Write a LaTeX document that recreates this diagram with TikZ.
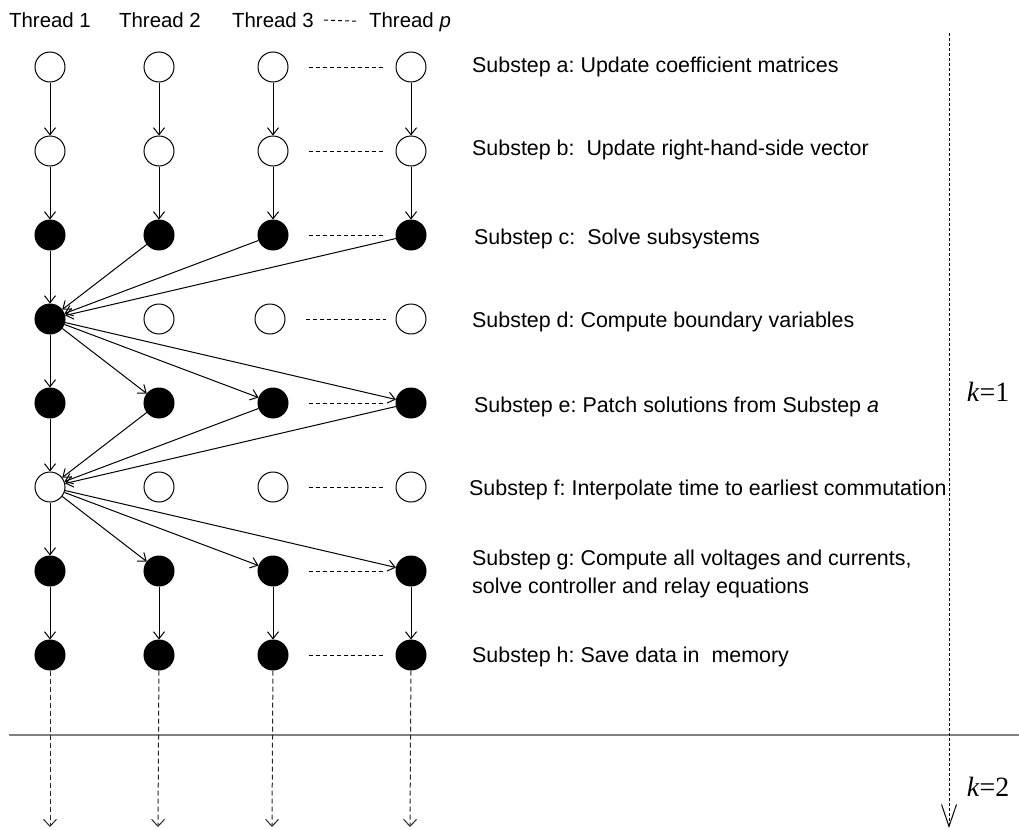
\documentclass[tikz,border=0pt]{standalone}
\usepackage{fontspec}
\setmainfont{Liberation Sans}
\newfontfamily\timesfont{Liberation Serif}
\usetikzlibrary{positioning,arrows.meta}
\frenchspacing

\begin{document}
\begin{tikzpicture}[x=1bp,y=-1bp,
  idle/.style={circle, draw, fill=white, minimum size=30bp, inner sep=0pt, line width=1bp},
  busy/.style={circle, draw, fill=black, minimum size=30bp, inner sep=0pt, line width=1bp},
  lbl/.style={anchor=west, inner sep=0pt, font=\fontsize{21.5}{28}\selectfont},
  head/.style={anchor=base, inner sep=0pt, font=\fontsize{20.5}{25}\selectfont},
  kval/.style={inner sep=0pt, font=\timesfont\fontsize{28}{30}\selectfont},
  flow/.style={line width=1bp, -{Straight Barb[length=7bp,width=11bp]}},
  dots/.style={dash pattern=on 4bp off 3bp, line width=1bp},
  next/.style={dash pattern=on 5bp off 3bp, line width=1bp, draw=black!85, -{Straight Barb[length=7bp,width=13bp]}},
]
\useasboundingbox (0,0) rectangle (1019,830);

%Header
\node[head] (t1) at (50,27) {Thread 1};
\node[head] (t2) at (160,27) {Thread 2};
\node[head] (t3) at (273,27) {Thread 3};
\node[head] (tp) at (410,27) {Thread \textit{p}};
\draw[dots, shorten <=10bp, shorten >=10bp] (t3.east) -- (tp.west);

%Nodes
\node[idle] (a1) at (50,67) {};
\node[idle] (a2) at (159,67) {};
\node[idle] (a3) at (273,67) {};
\node[idle] (a4) at (411,67) {};

\node[idle] (b1) at (50,151) {};
\node[idle] (b2) at (159,151) {};
\node[idle] (b3) at (273,151) {};
\node[idle] (b4) at (411,151) {};

\node[busy] (c1) at (50,235) {};
\node[busy] (c2) at (159,235) {};
\node[busy] (c3) at (273,235) {};
\node[busy] (c4) at (411,235) {};

\node[busy] (d1) at (50,319) {};
\node[idle] (d2) at (159,319) {};
\node[idle] (d3) at (270,319) {};
\node[idle] (d4) at (411,319) {};

\node[busy] (e1) at (50,403) {};
\node[busy] (e2) at (159,403) {};
\node[busy] (e3) at (273,403) {};
\node[busy] (e4) at (411,403) {};

\node[idle] (f1) at (50,487) {};
\node[idle] (f2) at (159,487) {};
\node[idle] (f3) at (273,487) {};
\node[idle] (f4) at (411,487) {};

\node[busy] (g1) at (50,571) {};
\node[busy] (g2) at (159,571) {};
\node[busy] (g3) at (273,571) {};
\node[busy] (g4) at (411,571) {};

\node[busy] (h1) at (50,655) {};
\node[busy] (h2) at (159,655) {};
\node[busy] (h3) at (273,655) {};
\node[busy] (h4) at (411,655) {};

%Labels
\node[lbl] (la) at (472,67) {Substep a: Update coefficient matrices};
\node[lbl] (lb) at (472,150) {Substep b:\ \ Update right-hand-side vector};
\node[lbl] (lc) at (474,239) {Substep c:\ \ Solve subsystems};
\node[lbl] (ld) at (472,322) {Substep d: Compute boundary variables};
\node[lbl] (le) at (474,407) {Substep e: Patch solutions from Substep \textit{a}};
\node[lbl] (lf) at (469,490) {Substep f: Interpolate time to earliest commutation};
\node[lbl, align=left] (lg) at (472,574) {Substep g: Compute all voltages and currents,\\solve controller and relay equations};
\node[lbl] (lh) at (472,657) {Substep h: Save data in\ \ memory};

%Lines
\draw[flow] (a1) -- (b1);
\draw[flow] (a2) -- (b2);
\draw[flow] (a3) -- (b3);
\draw[flow] (a4) -- (b4);
\draw[flow] (b1) -- (c1);
\draw[flow] (b2) -- (c2);
\draw[flow] (b3) -- (c3);
\draw[flow] (b4) -- (c4);

\draw[flow] (c1) -- (d1);
\draw[flow] (c2) -- (d1);
\draw[flow] (c3) -- (d1);
\draw[flow] (c4) -- (d1);

\draw[flow] (d1) -- (e1);
\draw[flow] (d1) -- (e2);
\draw[flow] (d1) -- (e3);
\draw[flow] (d1) -- (e4);

\draw[flow] (e1) -- (f1);
\draw[flow] (e2) -- (f1);
\draw[flow] (e3) -- (f1);
\draw[flow] (e4) -- (f1);

\draw[flow] (f1) -- (g1);
\draw[flow] (f1) -- (g2);
\draw[flow] (f1) -- (g3);
\draw[flow] (f1) -- (g4);

\draw[flow] (g1) -- (h1);
\draw[flow] (g2) -- (h2);
\draw[flow] (g3) -- (h3);
\draw[flow] (g4) -- (h4);

%Dashes between Thread 3 and Thread p
\foreach \r in {a,b,c,d,e,f,g,h}
  \draw[dots, shorten <=20bp, shorten >=10bp] (\r3) -- (\r4);

%Next time step
\draw[black!50, line width=2bp] (9,735) -- (1019,735);
\coordinate (n1) at (50,827);
\coordinate (n2) at (158,827);
\coordinate (n3) at (272,827);
\coordinate (n4) at (410,827);
\draw[next] (h1) -- (n1);
\draw[next] (h2) -- (n2);
\draw[next] (h3) -- (n3);
\draw[next] (h4) -- (n4);

%Iteration axis
\coordinate (ktop) at (949,33);
\coordinate (kbot) at (949,828);
\draw[dash pattern=on 3bp off 2bp, line width=1bp, -{Straight Barb[length=22bp,width=15bp]}] (ktop) -- (kbot);
\node[kval] (k1) at (988,392) {\textit{k}=1};
\node[kval] (k2) at (988,787) {\textit{k}=2};

\end{tikzpicture}
\end{document}
